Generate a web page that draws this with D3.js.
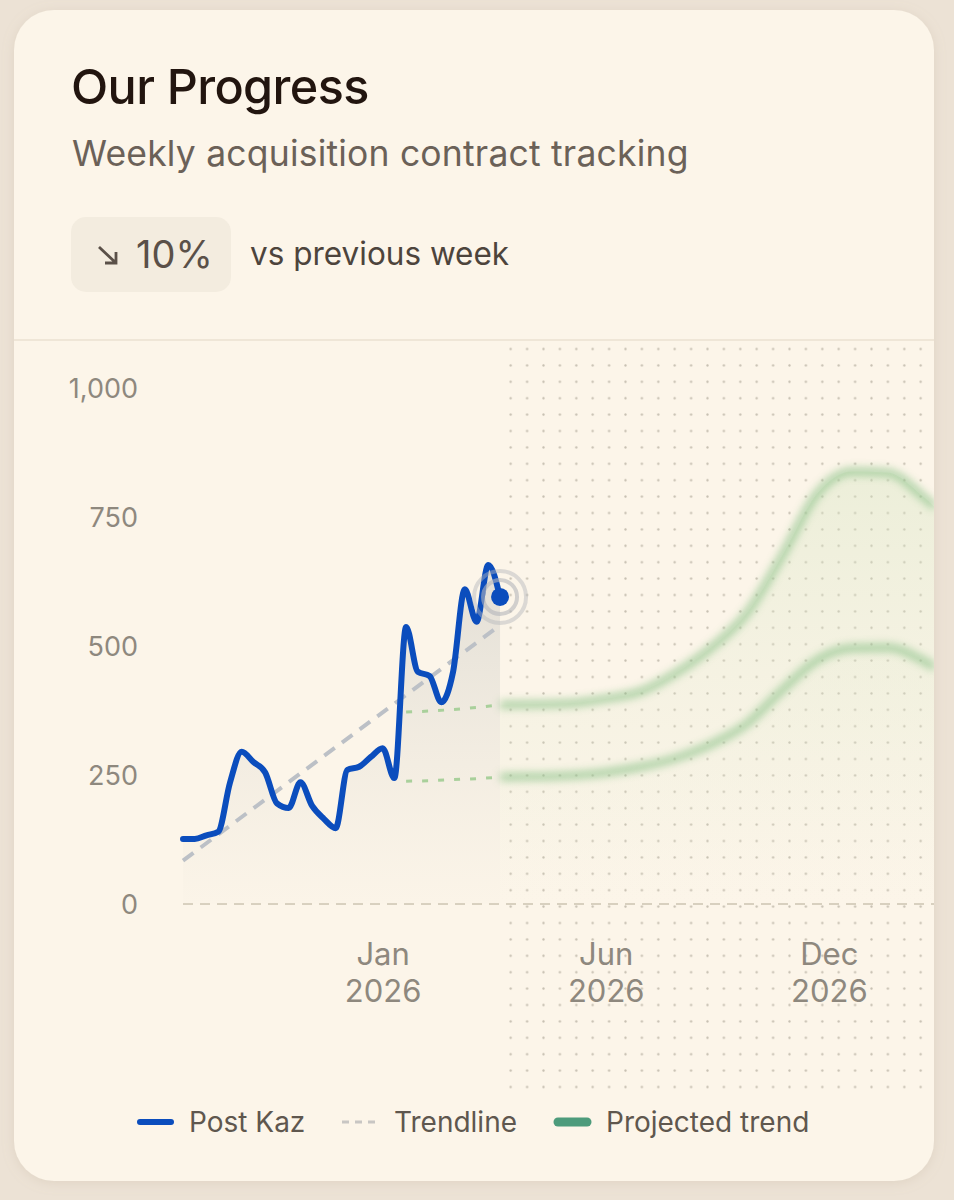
<!DOCTYPE html>
<html>
<head>
<meta charset="utf-8">
<script src="https://cdn.jsdelivr.net/npm/d3@7"></script>
<style>
  html, body { margin: 0; padding: 0; background: #ece2d5; }
  svg { display: block; font-family: Inter, Roboto, "Noto Sans", sans-serif; }
  .axis text { fill: #8e887e; }
  .legend text { fill: #5f574e; font-size: 28px; }
</style>
</head>
<body>
<div id="chart"></div>
<script>
// valores (um ponto por semana)
const postKaz = [126, 126, 133, 140, 235, 295, 275, 255, 195, 186, 236, 190, 165, 147,
                 260, 266, 285, 302, 244, 537, 450, 442, 391, 450, 610, 547, 657, 595];

// projeção (semana -> faixa superior / inferior)
const projWeeks = [19, 21, 23, 25, 27, 30, 33, 36, 39, 42, 45, 48, 51, 54, 57, 60, 63, 64];
const projUpper = [372, 374, 377, 381, 386, 387, 389, 398, 412, 448, 497, 563, 674, 795, 838, 836, 790, 770];
const projLower = [238, 239, 241, 243, 246, 247, 249, 255, 266, 283, 310, 349, 414, 473, 496, 497, 472, 459];

const yTicks = [0, 250, 500, 750, 1000];
const xTicks = [17, 36, 55];
const xTickLabels = ["Jan 2026", "Jun 2026", "Dec 2026"];
const legendItems = ["Post Kaz", "Trendline", "Projected trend"];

const W = 954, H = 1200;
const card = {x: 14, y: 10, w: 920, h: 1171, r: 40};

const svg = d3.select("#chart").append("svg")
  .attr("width", W)
  .attr("height", H);

const defs = svg.append("defs");

defs.append("filter").attr("id", "cardShadow")
  .attr("x", -0.1).attr("y", -0.1).attr("width", 1.2).attr("height", 1.2)
  .append("feDropShadow")
  .attr("dx", 0).attr("dy", 2).attr("stdDeviation", 6)
  .attr("flood-color", "#b9a88f").attr("flood-opacity", 0.25);

defs.append("clipPath").attr("id", "cardClip")
  .append("rect")
  .attr("x", card.x).attr("y", card.y).attr("width", card.w).attr("height", card.h)
  .attr("rx", card.r);

const pat = defs.append("pattern").attr("id", "dots")
  .attr("patternUnits", "userSpaceOnUse")
  .attr("x", 502.5).attr("y", 340.8).attr("width", 16.4).attr("height", 16.4);
pat.append("circle").attr("cx", 8.2).attr("cy", 8.2).attr("r", 1.15).attr("fill", "#c6bfb1");

defs.append("filter").attr("id", "soft")
  .attr("x", -0.1).attr("y", -0.3).attr("width", 1.2).attr("height", 1.6)
  .append("feGaussianBlur").attr("stdDeviation", 4);

const gHist = defs.append("linearGradient").attr("id", "histFill")
  .attr("gradientUnits", "userSpaceOnUse")
  .attr("x1", 0).attr("y1", 560).attr("x2", 0).attr("y2", 904);
gHist.append("stop").attr("offset", 0).attr("stop-color", "#d6d4cd").attr("stop-opacity", 0.7);
gHist.append("stop").attr("offset", 1).attr("stop-color", "#e6e1d6").attr("stop-opacity", 0.05);

const gProj = defs.append("linearGradient").attr("id", "projFill")
  .attr("gradientUnits", "userSpaceOnUse")
  .attr("x1", 0).attr("y1", 460).attr("x2", 0).attr("y2", 904);
gProj.append("stop").attr("offset", 0).attr("stop-color", "#d3e4c0").attr("stop-opacity", 0.4);
gProj.append("stop").attr("offset", 1).attr("stop-color", "#e2ead0").attr("stop-opacity", 0);

// cartão
svg.append("rect")
  .attr("x", card.x).attr("y", card.y).attr("width", card.w).attr("height", card.h)
  .attr("rx", card.r)
  .attr("fill", "#fcf5e9")
  .attr("filter", "url(#cardShadow)");

// cabeçalho
svg.append("text")
  .attr("x", 71).attr("y", 104)
  .attr("font-size", 48.5).attr("font-weight", 500)
  .attr("letter-spacing", -0.6)
  .attr("fill", "#22150f")
  .text("Our Progress");

svg.append("text")
  .attr("x", 72).attr("y", 166)
  .attr("font-size", 35.5)
  .attr("letter-spacing", 0.2)
  .attr("fill", "#6b6158")
  .text("Weekly acquisition contract tracking");

svg.append("rect")
  .attr("x", 71).attr("y", 217).attr("width", 160).attr("height", 75)
  .attr("rx", 15)
  .attr("fill", "#f3ecdf");

// seta para baixo
svg.append("path")
  .attr("d", "M99,247 L116,263 M116,252 L116,263 L105,263")
  .attr("fill", "none")
  .attr("stroke", "#5a5048")
  .attr("stroke-width", 2.8);

svg.append("text")
  .attr("x", 136).attr("y", 268)
  .attr("font-size", 38)
  .attr("fill", "#5a5048")
  .text("10%");

svg.append("text")
  .attr("x", 250).attr("y", 265)
  .attr("font-size", 31.5)
  .attr("fill", "#4d443c")
  .text("vs previous week");

svg.append("line")
  .attr("x1", card.x).attr("x2", card.x + card.w)
  .attr("y1", 340).attr("y2", 340)
  .attr("stroke", "#efe6d7").attr("stroke-width", 2);

// área do gráfico
const plot = svg.append("g").attr("clip-path", "url(#cardClip)");

const x = d3.scaleLinear().domain([0, 64]).range([183, 934.5]);
const y = d3.scaleLinear().domain([0, 1000]).range([904, 388]);

plot.append("rect")
  .attr("x", 503).attr("y", 343)
  .attr("width", 440).attr("height", 749)
  .attr("fill", "url(#dots)");

// projeção
const proj = projWeeks.map((w, i) => ({w, hi: projUpper[i], lo: projLower[i]}));
const projAhead = proj.filter(d => d.w >= 27);
const projLead = proj.filter(d => d.w <= 27);

const areaHi = d3.area().x(d => x(d.w)).y0(y(0)).y1(d => y(d.hi)).curve(d3.curveMonotoneX);
const areaLo = d3.area().x(d => x(d.w)).y0(y(0)).y1(d => y(d.lo)).curve(d3.curveMonotoneX);

plot.append("path").datum(projAhead).attr("d", areaHi).attr("fill", "url(#projFill)");
plot.append("path").datum(projAhead).attr("d", areaLo).attr("fill", "url(#projFill)").attr("opacity", 0.6);

// linha do zero
plot.append("line")
  .attr("x1", 183).attr("x2", 934)
  .attr("y1", y(0)).attr("y2", y(0))
  .attr("stroke", "#d8d0bf")
  .attr("stroke-width", 2)
  .attr("stroke-dasharray", "10 7");

// área sob a série
const pts = postKaz.map((v, i) => ({w: i, v}));
const histArea = d3.area().x(d => x(d.w)).y0(y(0)).y1(d => y(d.v)).curve(d3.curveMonotoneX);
plot.append("path").datum(pts).attr("d", histArea).attr("fill", "url(#histFill)");

// linha de tendência (mínimos quadrados)
const n = pts.length;
const mx = d3.mean(pts, d => d.w), my = d3.mean(pts, d => d.v);
const slope = d3.sum(pts, d => (d.w - mx) * (d.v - my)) / d3.sum(pts, d => (d.w - mx) ** 2);
const icpt = my - slope * mx;
plot.append("line")
  .attr("x1", x(0)).attr("y1", y(icpt))
  .attr("x2", x(n - 1)).attr("y2", y(icpt + slope * (n - 1)))
  .attr("stroke", "#bcc0c6")
  .attr("stroke-width", 4)
  .attr("stroke-dasharray", "13 9");

// conectores tracejados verdes
const lineHi = d3.line().x(d => x(d.w)).y(d => y(d.hi)).curve(d3.curveMonotoneX);
const lineLo = d3.line().x(d => x(d.w)).y(d => y(d.lo)).curve(d3.curveMonotoneX);
[lineHi, lineLo].forEach(l => {
  plot.append("path").datum(projLead)
    .attr("d", l)
    .attr("fill", "none")
    .attr("stroke", "#a9d09b")
    .attr("stroke-width", 3)
    .attr("stroke-dasharray", "6 10");
});

// linhas projetadas desfocadas
[lineHi, lineLo].forEach(l => {
  plot.append("path").datum(projAhead)
    .attr("d", l)
    .attr("fill", "none")
    .attr("stroke", "#86c084")
    .attr("stroke-width", 7)
    .attr("opacity", 0.75)
    .attr("filter", "url(#soft)");
});

// série principal
const line = d3.line().x(d => x(d.w)).y(d => y(d.v)).curve(d3.curveMonotoneX);
plot.append("path").datum(pts)
  .attr("d", line)
  .attr("fill", "none")
  .attr("stroke", "#0b4dbd")
  .attr("stroke-width", 6)
  .attr("stroke-linejoin", "round")
  .attr("stroke-linecap", "round");

// marcador do último ponto
const last = pts[n - 1];
[26, 17].forEach((r, i) => {
  plot.append("circle")
    .attr("cx", x(last.w)).attr("cy", y(last.v))
    .attr("r", r)
    .attr("fill", "none")
    .attr("stroke", "#b4b5ba")
    .attr("stroke-width", 4)
    .attr("opacity", i === 0 ? 0.45 : 0.6);
});
plot.append("circle")
  .attr("cx", x(last.w)).attr("cy", y(last.v))
  .attr("r", 9)
  .attr("fill", "#0b4dbd");

// eixos
const yAxis = svg.append("g")
  .attr("class", "axis")
  .attr("transform", "translate(138,0)")
  .call(d3.axisLeft(y).tickValues(yTicks).tickFormat(d3.format(",")).tickSize(0).tickPadding(0));
yAxis.select(".domain").remove();
yAxis.selectAll("text")
  .attr("font-size", 27)
  .attr("font-family", "Inter, sans-serif")
  .attr("dy", "0.36em");

const xAxis = svg.append("g")
  .attr("class", "axis")
  .attr("transform", "translate(0,904)")
  .call(d3.axisBottom(x).tickValues(xTicks).tickSize(0).tickFormat((d, i) => xTickLabels[i]));
xAxis.select(".domain").remove();
xAxis.selectAll("text")
  .attr("font-size", 31)
  .attr("font-family", "Inter, sans-serif")
  .attr("y", 0).attr("dy", null)
  .each(function () {
    const t = d3.select(this);
    const parts = t.text().split(" ");
    t.text(null);
    parts.forEach((p, k) => {
      t.append("tspan").attr("x", 0).attr("y", 61 + k * 37).text(p);
    });
  });

// legenda
const legend = svg.append("g").attr("class", "legend");
const legX = [137, 342, 554];
legendItems.forEach((name, i) => {
  const g = legend.append("g").attr("transform", `translate(${legX[i]},1122)`);
  if (i === 0) {
    g.append("line").attr("x1", 3).attr("x2", 34).attr("stroke", "#0b4dbd")
      .attr("stroke-width", 6).attr("stroke-linecap", "round");
  } else if (i === 1) {
    g.append("line").attr("x1", 0).attr("x2", 38).attr("stroke", "#c8c6c3")
      .attr("stroke-width", 3).attr("stroke-dasharray", "7 6");
  } else {
    g.append("line").attr("x1", 4).attr("x2", 33).attr("stroke", "#4d9b7b")
      .attr("stroke-width", 9).attr("stroke-linecap", "round");
  }
  g.append("text").attr("x", 52).attr("y", 10).text(name);
});
</script>
</body>
</html>
